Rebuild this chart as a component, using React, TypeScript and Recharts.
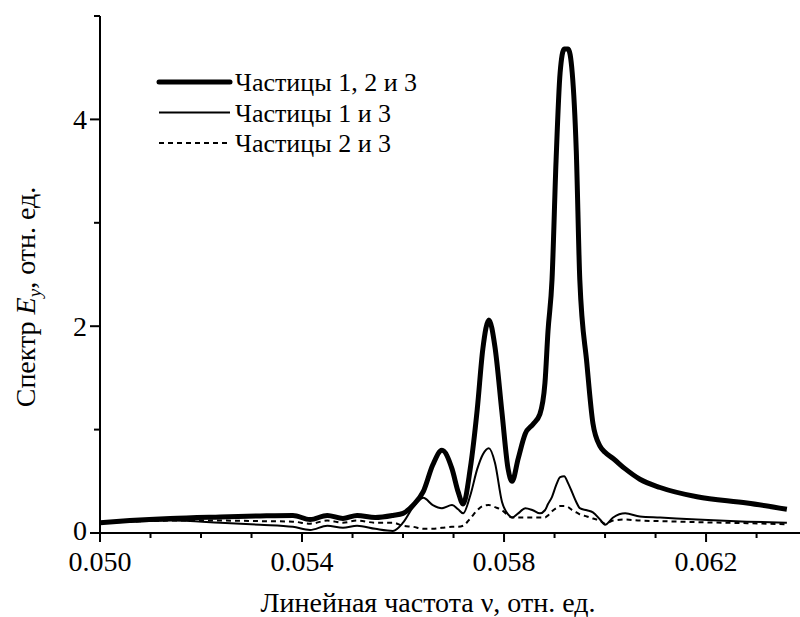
import React from 'react';
import { LineChart, Line, XAxis, YAxis } from 'recharts';

// linear frequency, rel. units
const freq = [
  0.05, 0.05059, 0.05139, 0.05238, 0.05317, 0.05382, 0.05416, 0.0545, 0.05481, 0.05509,
  0.05545, 0.0558, 0.056, 0.0562, 0.0564, 0.05659, 0.05677, 0.05697, 0.05709, 0.05719,
  0.05733, 0.05747, 0.05758, 0.0577, 0.05782, 0.05796, 0.05808, 0.05816, 0.05828, 0.05842,
  0.05857, 0.05871, 0.05881, 0.05887, 0.05895, 0.05903, 0.05911, 0.05919, 0.05927, 0.05935,
  0.05943, 0.0595, 0.05964, 0.05976, 0.0599, 0.06, 0.06016, 0.0604, 0.06069, 0.06109,
  0.06182, 0.06281, 0.0636,
];

// particles 1, 2 and 3
const spec123 = [
  0.1, 0.12, 0.14, 0.155, 0.165, 0.17, 0.13, 0.17, 0.14, 0.17,
  0.15, 0.17, 0.19, 0.27, 0.4, 0.66, 0.8, 0.62, 0.4, 0.28,
  0.62, 1.2, 1.78, 2.06, 1.8, 1.16, 0.62, 0.5, 0.72, 0.96,
  1.05, 1.15, 1.45, 1.95, 2.45, 3.6, 4.45, 4.68, 4.68, 4.45,
  3.7, 2.45, 1.64, 1.06, 0.84, 0.78, 0.72, 0.62, 0.52, 0.44,
  0.35, 0.29, 0.23,
];

// particles 1 and 3
const spec13 = [
  0.1, 0.11, 0.12, 0.1, 0.08, 0.06, 0.03, 0.07, 0.05, 0.07,
  0.04, 0.02, 0.1, 0.25, 0.34, 0.27, 0.24, 0.27, 0.23, 0.19,
  0.36, 0.62, 0.76, 0.82, 0.68, 0.3, 0.18, 0.15, 0.19, 0.24,
  0.22, 0.19, 0.22, 0.28, 0.35, 0.46, 0.54, 0.55, 0.48, 0.39,
  0.3, 0.24, 0.22, 0.2, 0.13, 0.08, 0.15, 0.19, 0.16, 0.15,
  0.13, 0.11, 0.1,
];

// particles 2 and 3
const spec23 = [
  0.1, 0.11, 0.12, 0.12, 0.115, 0.11, 0.09, 0.12, 0.1, 0.12,
  0.1, 0.1, 0.07, 0.06, 0.04, 0.04, 0.05, 0.06, 0.06, 0.07,
  0.14, 0.22, 0.26, 0.27, 0.25, 0.22, 0.17, 0.15, 0.15, 0.15,
  0.15, 0.15, 0.15, 0.17, 0.21, 0.24, 0.26, 0.26, 0.25, 0.22,
  0.2, 0.18, 0.16, 0.14, 0.12, 0.09, 0.12, 0.13, 0.12, 0.115,
  0.105, 0.095, 0.085,
];

const xTicks = [0.05, 0.051, 0.052, 0.053, 0.054, 0.055, 0.056, 0.057, 0.058, 0.059, 0.06, 0.061, 0.062, 0.063];
const xLabels = ['0.050', '0.054', '0.058', '0.062'];
const yTicks = [0, 1, 2, 3, 4, 5];
const yLabels = ['0', '2', '4'];

const data = freq.map((v, i) => ({ v, a: spec123[i], b: spec13[i], c: spec23[i] }));

const FONT = 'Liberation Serif';

const series = [
  { key: 'a', name: 'Частицы 1, 2 и 3', width: 5, dash: undefined },
  { key: 'b', name: 'Частицы 1 и 3', width: 2, dash: undefined },
  { key: 'c', name: 'Частицы 2 и 3', width: 2, dash: '5 4' },
];

const XTick = (props: any) => {
  const { x, y, payload } = props;
  const label = payload.value.toFixed(3);
  const major = xLabels.includes(label);
  return (
    <g>
      <line x1={x} y1={y} x2={x} y2={y + (major ? 9 : 5)} stroke="#000" strokeWidth={2} />
      {major && (
        <text x={x} y={y + 38} textAnchor="middle" fontFamily={FONT} fontSize={28} fill="#000">
          {label}
        </text>
      )}
    </g>
  );
};

const YTick = (props: any) => {
  const { x, y, payload } = props;
  const label = String(payload.value);
  const major = yLabels.includes(label);
  // lift the bottom label a little so it clears the x tick labels
  const dy = label === '0' ? 7 : 10;
  return (
    <g>
      <line x1={x} y1={y} x2={x - (major ? 10 : 6)} y2={y} stroke="#000" strokeWidth={2} />
      {major && (
        <text x={x - 13} y={y + dy} textAnchor="end" fontFamily={FONT} fontSize={28} fill="#000">
          {label}
        </text>
      )}
    </g>
  );
};

const XTitle = (props: any) => {
  const { viewBox } = props;
  const cx = viewBox.x + viewBox.width / 2 - 22;
  return (
    <text x={cx} y={612} textAnchor="middle" fontFamily={FONT} fontSize={28} fill="#000">
      Линейная частота ν, отн. ед.
    </text>
  );
};

const YTitle = () => (
  <text
    transform="translate(35, 297) rotate(-90)"
    textAnchor="middle"
    fontFamily={FONT}
    fontSize={28}
    fill="#000"
  >
    Спектр <tspan fontStyle="italic">E</tspan>
    <tspan fontStyle="italic" fontSize={19} dy={6}>y</tspan>
    <tspan dy={-6}>, отн. ед.</tspan>
  </text>
);

const LegendBox = () => (
  <svg width={300} height={100} style={{ position: 'absolute', left: 155, top: 68 }}>
    {series.map((s, i) => (
      <g key={s.key}>
        <line
          x1={4}
          x2={75}
          y1={14 + i * 30.5}
          y2={14 + i * 30.5}
          stroke="#000"
          strokeWidth={s.width}
          strokeDasharray={s.dash}
          strokeLinecap={s.width > 3 ? 'round' : 'butt'}
        />
        <text x={80} y={23 + i * 30.5} fontFamily={FONT} fontSize={26} fill="#000">
          {s.name}
        </text>
      </g>
    ))}
  </svg>
);

export default function App() {
  return (
    <div style={{ position: 'absolute', left: 0, top: 0, width: 800, height: 617, overflow: 'hidden', background: '#fff' }}>
      <LineChart width={800} height={617} data={data} margin={{ top: 16, right: 0, left: 0, bottom: 0 }}>
        <XAxis
          dataKey="v"
          type="number"
          domain={[0.05, 0.06386]}
          ticks={xTicks}
          allowDataOverflow
          height={84}
          tickSize={0}
          tickMargin={0}
          tickLine={false}
          tick={<XTick />}
          interval={0}
          axisLine={{ stroke: '#000', strokeWidth: 2 }}
          label={<XTitle />}
        />
        <YAxis
          type="number"
          domain={[0, 5]}
          ticks={yTicks}
          width={100}
          tickSize={0}
          tickMargin={0}
          tickLine={false}
          tick={<YTick />}
          interval={0}
          axisLine={{ stroke: '#000', strokeWidth: 2 }}
          label={<YTitle />}
        />
        {series.map((s) => (
          <Line
            key={s.key}
            dataKey={s.key}
            name={s.name}
            type="monotone"
            stroke="#000"
            strokeWidth={s.width}
            strokeDasharray={s.dash}
            dot={false}
            activeDot={false}
            isAnimationActive={false}
          />
        ))}
      </LineChart>
      <LegendBox />
    </div>
  );
}
